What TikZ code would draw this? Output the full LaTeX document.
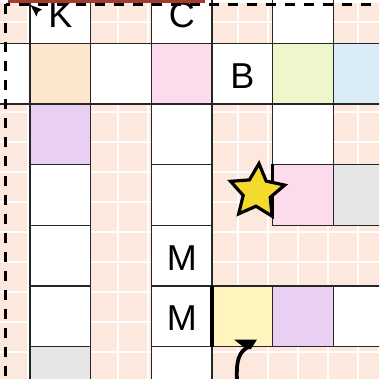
\documentclass[tikz,border=0pt]{standalone}
\usepackage{fontspec}
\setmainfont{Liberation Sans}
\usepackage{xcolor}
\definecolor{board}{HTML}{FDE8DD}
\definecolor{tilepeach}{HTML}{FDE6CE}
\definecolor{tilepink}{HTML}{FCDCEC}
\definecolor{tilegreen}{HTML}{EEF7CC}
\definecolor{tileblue}{HTML}{DAECF8}
\definecolor{tilelilac}{HTML}{E9D0F2}
\definecolor{tilegray}{HTML}{E6E6E6}
\definecolor{tileyellow}{HTML}{FEF5BE}
\definecolor{starfill}{HTML}{F4DA2C}
\definecolor{rim}{HTML}{A33B2F}
\usepackage{tikz}
\usetikzlibrary{shapes.geometric}

\begin{document}
\begin{tikzpicture}[x=1pt, y=-1pt,
    tile/.style={draw=black!85, line width=1.3pt, fill=white, minimum size=60.7pt,
                 inner sep=0pt, font=\fontsize{36}{36}\selectfont,
                 text height=29pt, text depth=0pt},
    hatch/.style={white, line width=1.4pt},
    selframe/.style={black, line width=2.6pt, dash pattern=on 10pt off 9pt},
    starmark/.style={star, star points=5, star point ratio=2.0, minimum size=57pt,
                     inner sep=0pt, fill=starfill, draw=black, line width=3.2pt}]
  \useasboundingbox (0,0) rectangle (379,379);
  \clip (0,0) rectangle (379,379);

  % board
  \fill[board] (0,0) rectangle (379,379);
  \foreach \gx in {28,58,...,358} \draw[hatch] (\gx,0) -- (\gx,379);
  \foreach \gy in {22,52,...,382} \draw[hatch] (0,\gy) -- (379,\gy);
  \fill[white] (0,0) rectangle (379,3);

  % row 0
  \node[tile] (k)   at ( 60.35, 12.95) {K};
  \node[tile] (c)   at (181.75, 12.95) {C};
  \node[tile] (w04) at (303.15, 12.95) {};

  % row 1
  \node[tile]                 (w1l) at ( -0.35, 73.65) {};
  \node[tile, fill=tilepeach] (p10) at ( 60.35, 73.65) {};
  \node[tile]                 (w11) at (121.05, 73.65) {};
  \node[tile, fill=tilepink]  (p12) at (181.75, 73.65) {};
  \node[tile]                 (b)   at (242.45, 73.65) {B};
  \node[tile, fill=tilegreen] (g14) at (303.15, 73.65) {};
  \node[tile, fill=tileblue]  (l15) at (363.85, 73.65) {};

  % row 2
  \node[tile, fill=tilelilac] (v20) at ( 60.35,134.35) {};
  \node[tile]                 (w22) at (181.75,134.35) {};
  \node[tile]                 (w24) at (303.15,134.35) {};

  % row 3
  \node[tile]                 (w30) at ( 60.35,195.05) {};
  \node[tile]                 (w32) at (181.75,195.05) {};
  \node[tile, fill=tilepink]  (p34) at (303.15,195.05) {};
  \node[tile, fill=tilegray]  (g35) at (363.85,195.05) {};

  % row 4
  \node[tile] (w40) at ( 60.35,255.75) {};
  \node[tile] (m1)  at (181.75,255.75) {M};

  % row 5
  \node[tile]                  (w50) at ( 60.35,316.45) {};
  \node[tile]                  (m2)  at (181.75,316.45) {M};
  \node[tile, fill=tileyellow] (y53) at (242.45,316.45) {};
  \node[tile, fill=tilelilac]  (v54) at (303.15,316.45) {};
  \node[tile]                  (w55) at (363.85,316.45) {};

  % row 6
  \node[tile, fill=tilegray] (g60) at ( 60.35,377.15) {};
  \node[tile]                (w62) at (181.75,377.15) {};

  % walls
  \fill[black] (209.5,286.1) rectangle (213.5,346.8);
  \draw[black, line width=3pt] (p34.north west) -- ++(0,52);

  % star and pointers
  \node[starmark, rotate=-4] (star) at (257,192) {};
  \fill[black] (30.5,5) -- (42,9.5) -- (38,12) -- (36.5,16.5) -- cycle;
  \fill[black] (234,339.5) -- (257,339.5) -- (251,349) -- (246,349) -- cycle;
  \draw[black, line width=3.8pt] (248,347) .. controls (239,352) and (236,360) .. (237,381);

  % selection frame
  \draw[selframe] (371,4.5) -- (5.5,4.5);
  \draw[selframe] (5.5,4.5) -- (5.5,385);
  \fill[rim] (8,0) rectangle (205,3.2);
\end{tikzpicture}
\end{document}
